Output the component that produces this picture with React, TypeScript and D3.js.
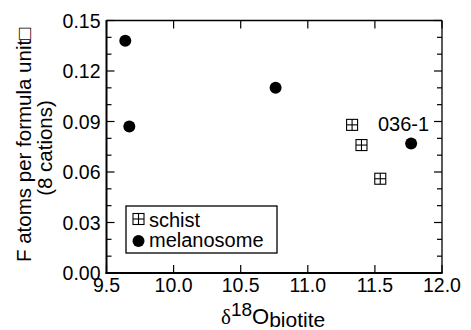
import React from 'react';
import * as d3 from 'd3';

// melanosome points (filled circles)
const melanoX = [9.64, 9.67, 10.76, 11.77];
const melanoY = [0.138, 0.087, 0.110, 0.077];
// schist points (crossed squares)
const schistX = [11.33, 11.40, 11.54];
const schistY = [0.088, 0.076, 0.056];

const xTicks = [9.5, 10.0, 10.5, 11.0, 11.5, 12.0];
const yTicks = [0.0, 0.03, 0.06, 0.09, 0.12, 0.15];
const yMinor = [0.01, 0.02, 0.04, 0.05, 0.07, 0.08, 0.10, 0.11, 0.13, 0.14];

const W = 471;
const H = 330;
const margin = { left: 106.5, right: 29, top: 20.5, bottom: 57 };
const FONT = '"Liberation Sans", Arial, Helvetica, sans-serif';

const CrossSquare = ({ cx, cy, s }: { cx: number; cy: number; s: number }) => (
  <g stroke="#000" strokeWidth={1.1} fill="none">
    <rect x={cx - s / 2} y={cy - s / 2} width={s} height={s} fill="#fff" />
    <line x1={cx} x2={cx} y1={cy - s / 2} y2={cy + s / 2} />
    <line x1={cx - s / 2} x2={cx + s / 2} y1={cy} y2={cy} />
  </g>
);

export default function App() {
  const x = d3.scaleLinear().domain([9.5, 12]).range([margin.left, W - margin.right]);
  const y = d3.scaleLinear().domain([0, 0.15]).range([H - margin.bottom, margin.top]);
  const [x0, x1] = x.range();
  const [y0, y1] = y.range();

  const melano = melanoX.map((v, i) => ({ x: v, y: melanoY[i] }));
  const schist = schistX.map((v, i) => ({ x: v, y: schistY[i] }));
  const last = melano[melano.length - 1];

  return (
    <svg width={W} height={H} style={{ position: 'absolute', left: 0, top: 0 }} fontFamily={FONT}>
      <rect width={W} height={H} fill="#fff" />

      {/* frame */}
      <line x1={x0} x2={x1} y1={y1} y2={y1} stroke="#000" strokeWidth={1.3} />
      <line x1={x1} x2={x1} y1={y1} y2={y0} stroke="#000" strokeWidth={1.3} />
      <line x1={x0} x2={x0} y1={y1 - 0.5} y2={y0 + 1} stroke="#000" strokeWidth={2} />
      <line x1={x0 - 1} x2={x1 + 0.6} y1={y0} y2={y0} stroke="#000" strokeWidth={2} />

      {/* x ticks, inward on bottom and top */}
      {xTicks.map(t => (
        <g key={'x' + t}>
          <line x1={x(t)} x2={x(t)} y1={y0} y2={y0 - 8} stroke="#000" strokeWidth={1.2} />
          <line x1={x(t)} x2={x(t)} y1={y1} y2={y1 + 8} stroke="#000" strokeWidth={1.2} />
          <text x={x(t)} y={y0 + 19} textAnchor="middle" fontSize={19.5}>
            {t.toFixed(1)}
          </text>
        </g>
      ))}

      {/* y ticks, inward on left and right */}
      {yTicks.map(t => (
        <g key={'y' + t}>
          <line x1={x0} x2={x0 + 8} y1={y(t)} y2={y(t)} stroke="#000" strokeWidth={1.2} />
          <line x1={x1} x2={x1 - 8} y1={y(t)} y2={y(t)} stroke="#000" strokeWidth={1.2} />
          <text x={x0 - 6} y={y(t) + 7} textAnchor="end" fontSize={19.5}>
            {t.toFixed(2)}
          </text>
        </g>
      ))}
      {yMinor.map(t => (
        <g key={'m' + t}>
          <line x1={x0} x2={x0 + 5} y1={y(t)} y2={y(t)} stroke="#000" strokeWidth={1.2} />
          <line x1={x1} x2={x1 - 5} y1={y(t)} y2={y(t)} stroke="#000" strokeWidth={1.2} />
        </g>
      ))}

      {/* data */}
      {schist.map((d, i) => (
        <CrossSquare key={'s' + i} cx={x(d.x)} cy={y(d.y)} s={11} />
      ))}
      {melano.map((d, i) => (
        <circle key={'c' + i} cx={x(d.x)} cy={y(d.y)} r={6} fill="#000" />
      ))}
      <text x={x(last.x) + 18} y={y(last.y) - 12} textAnchor="end" fontSize={20}>
        036-1
      </text>

      {/* legend */}
      <rect x={126} y={206} width={151} height={47} fill="#fff" stroke="#000" strokeWidth={1.3} />
      <CrossSquare cx={138.5} cy={219} s={11} />
      <text x={149} y={227} fontSize={20}>schist</text>
      <circle cx={138.5} cy={241} r={6} fill="#000" />
      <text x={149} y={247} fontSize={20}>melanosome</text>

      {/* axis titles */}
      <text x={221} y={324} fontSize={22}>
        <tspan fontFamily='"Liberation Serif", "Times New Roman", serif' fontSize={21}>δ</tspan>
        <tspan fontSize={19} dy={-8}>18</tspan>
        <tspan dy={8}>O</tspan>
        <tspan fontSize={21} dy={2.5}>biotite</tspan>
      </text>
      <text transform="translate(31,262) rotate(-90)" fontSize={20.5}>
        F atoms per formula unit{'\u25A1'}
      </text>
      <text transform="translate(52,148) rotate(-90)" textAnchor="middle" fontSize={20.5}>
        (8 cations)
      </text>
    </svg>
  );
}
